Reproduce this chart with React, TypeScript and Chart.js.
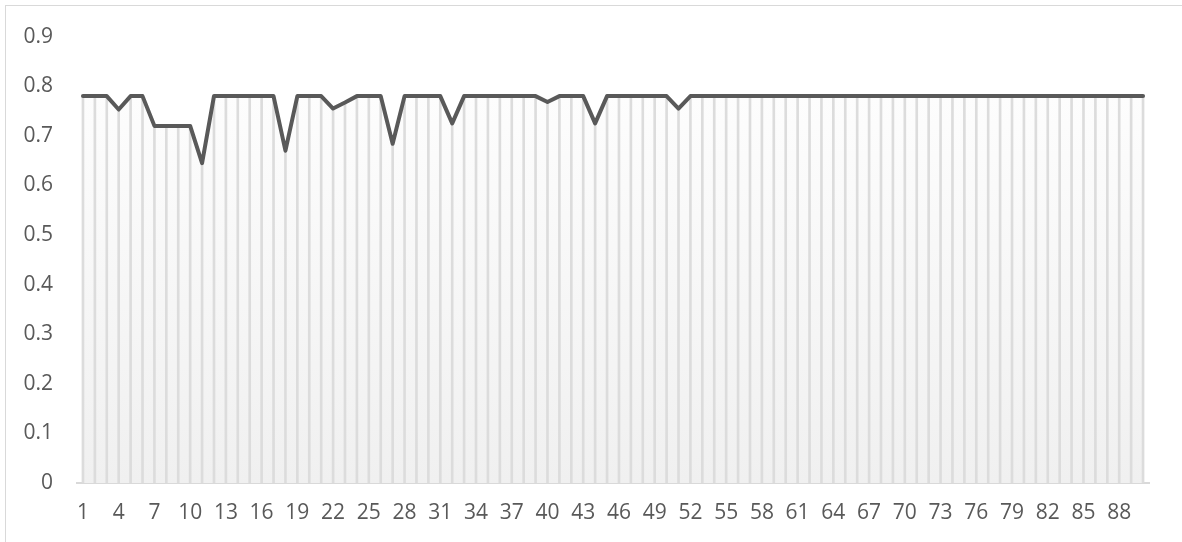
import { useEffect, useRef } from 'react';
import { Chart, registerables } from 'chart.js';

Chart.register(...registerables);

const categories: string[] = [
  '1', '2', '3', '4', '5', '6', '7', '8', '9', '10',
  '11', '12', '13', '14', '15', '16', '17', '18', '19', '20',
  '21', '22', '23', '24', '25', '26', '27', '28', '29', '30',
  '31', '32', '33', '34', '35', '36', '37', '38', '39', '40',
  '41', '42', '43', '44', '45', '46', '47', '48', '49', '50',
  '51', '52', '53', '54', '55', '56', '57', '58', '59', '60',
  '61', '62', '63', '64', '65', '66', '67', '68', '69', '70',
  '71', '72', '73', '74', '75', '76', '77', '78', '79', '80',
  '81', '82', '83', '84', '85', '86', '87', '88', '89', '90',
];

const values: number[] = [
  0.78, 0.78, 0.78, 0.753, 0.78, 0.78, 0.72, 0.72, 0.72, 0.72,
  0.645, 0.78, 0.78, 0.78, 0.78, 0.78, 0.78, 0.67, 0.78, 0.78,
  0.78, 0.755, 0.767, 0.78, 0.78, 0.78, 0.684, 0.78, 0.78, 0.78,
  0.78, 0.725, 0.78, 0.78, 0.78, 0.78, 0.78, 0.78, 0.78, 0.768,
  0.78, 0.78, 0.78, 0.725, 0.78, 0.78, 0.78, 0.78, 0.78, 0.78,
  0.755, 0.78, 0.78, 0.78, 0.78, 0.78, 0.78, 0.78, 0.78, 0.78,
  0.78, 0.78, 0.78, 0.78, 0.78, 0.78, 0.78, 0.78, 0.78, 0.78,
  0.78, 0.78, 0.78, 0.78, 0.78, 0.78, 0.78, 0.78, 0.78, 0.78,
  0.78, 0.78, 0.78, 0.78, 0.78, 0.78, 0.78, 0.78, 0.78, 0.78,
];

const yMin = 0;
const yMax = 0.9;
const yStep = 0.1;
const xLabelEvery = 3;

const FONT = '"Open Sans", Lato, sans-serif';
const TEXT = '#595959';

export default function App() {
  const ref = useRef<HTMLCanvasElement>(null);

  useEffect(() => {
    const canvas = ref.current;
    if (!canvas) return;
    const chart = new Chart(canvas, {
      type: 'bar',
      data: {
        labels: categories,
        datasets: [
          {
            type: 'line',
            data: values,
            borderColor: '#595959',
            borderWidth: 4,
            borderJoinStyle: 'round',
            borderCapStyle: 'round',
            pointRadius: 0,
            tension: 0,
            fill: 'origin',
            backgroundColor: (c: any) => {
              const ch = c.chart;
              const ca = ch.chartArea;
              if (!ca) return 'rgba(0,0,0,0)';
              const g = ch.ctx.createLinearGradient(0, ca.top, 0, ca.bottom);
              g.addColorStop(0, '#ffffff');
              g.addColorStop(1, '#f0f0f0');
              return g;
            },
            order: 0,
          } as any,
          {
            type: 'bar',
            data: values,
            backgroundColor: '#dcdcdc',
            barThickness: 2,
            order: 1,
          } as any,
        ],
      },
      options: {
        animation: false,
        responsive: false,
        maintainAspectRatio: false,
        layout: { padding: { left: 0, right: 33, top: 33, bottom: 0 } },
        plugins: {
          legend: { display: false },
          tooltip: { enabled: false },
          filler: { drawTime: 'beforeDatasetsDraw' },
        } as any,
        scales: {
          x: {
            offset: true,
            grid: { display: false, drawTicks: false },
            border: { display: true, color: '#d9d9d9', width: 2 },
            ticks: {
              autoSkip: false,
              maxRotation: 0,
              minRotation: 0,
              padding: 17,
              color: TEXT,
              font: { family: FONT, size: 21 },
              callback: (_v: any, i: number) => (i % xLabelEvery === 0 ? categories[i] : ''),
            },
            afterFit: (s: any) => {
              s.height = 59;
            },
          },
          y: {
            min: yMin,
            max: yMax,
            grid: { display: false, drawTicks: false },
            border: { display: false },
            ticks: {
              stepSize: yStep,
              padding: 24,
              color: TEXT,
              font: { family: FONT, size: 21 },
              callback: (v: any) => String(Number(Number(v).toFixed(1))),
            },
            afterFit: (s: any) => {
              s.width = 77;
            },
          },
        },
      } as any,
    });
    return () => chart.destroy();
  }, []);

  return (
    <div
      style={{
        position: 'fixed',
        left: 0,
        top: 0,
        width: 1182,
        height: 542,
        overflow: 'hidden',
        background: '#ffffff',
      }}
    >
      <div
        style={{
          position: 'absolute',
          left: 5,
          top: 5,
          width: 1400,
          height: 800,
          border: '1.5px solid #d9d9d9',
          boxSizing: 'border-box',
        }}
      />
      <canvas
        ref={ref}
        width={1182}
        height={542}
        style={{ position: 'absolute', left: 0, top: 0, width: 1182, height: 542 }}
      />
    </div>
  );
}
